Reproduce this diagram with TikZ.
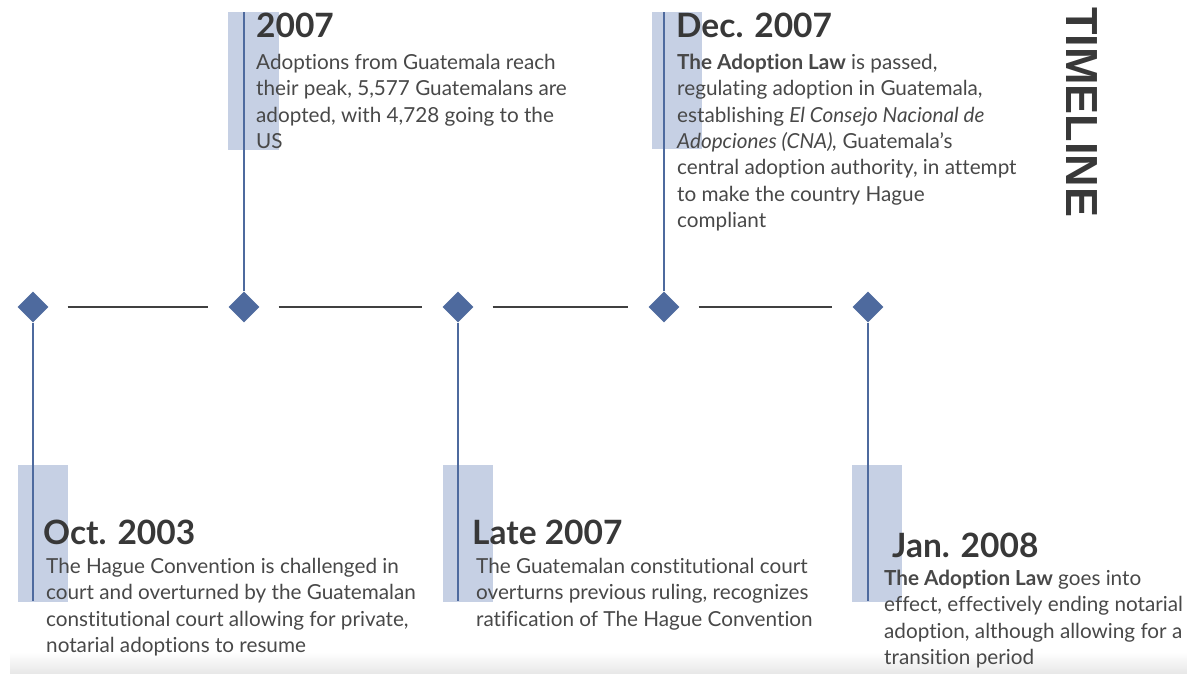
\documentclass[tikz,border=0pt]{standalone}
\usepackage{fontspec}
\setmainfont{Lato}[Ligatures={NoCommon}]
\newfontfamily\titlefont{Liberation Sans}
\usetikzlibrary{shapes.geometric}
\definecolor{tlblue}{HTML}{4E6A9E}
\definecolor{tllight}{HTML}{C6D0E4}
\definecolor{tlhead}{HTML}{383838}
\definecolor{tlbody}{HTML}{484848}
\definecolor{tlline}{HTML}{404040}
\tikzset{
  dia/.style={diamond,fill=tlblue,draw=none,minimum width=31,minimum height=31,inner sep=0},
  vline/.style={draw=tlblue,line width=2.2},
  hline/.style={draw=tlline,line width=2.4,shorten >=20,shorten <=19},
  hilite/.style={fill=tllight,draw=none},
  heading/.style={anchor=base west,inner sep=0,text=tlhead,font=\fontsize{33.5}{36}\selectfont\bfseries},
  body/.style={anchor=north west,inner sep=0,text=tlbody,align=left,font=\fontsize{20.7}{26.3}\selectfont},
}
\begin{document}
\begin{tikzpicture}[x=1pt,y=-1pt]
\useasboundingbox (0,0) rectangle (1187,673);
\shade[top color=white,bottom color=black!9] (10,652) rectangle (1187,673);
% highlight rectangles
\fill[hilite] (228,12) rectangle (279,150);
\fill[hilite] (652,12) rectangle (702,149);
\fill[hilite] (18,465) rectangle (68,602);
\fill[hilite] (443,465) rectangle (493,602);
\fill[hilite] (852,465) rectangle (902,602);
% diamonds
\node[dia] (d1) at (33,307) {};
\node[dia] (d2) at (244,307) {};
\node[dia] (d3) at (458,307) {};
\node[dia] (d4) at (664,307) {};
\node[dia] (d5) at (868,307) {};
% ends of stems
\coordinate (e1) at (33,601);
\coordinate (e2) at (244,12);
\coordinate (e3) at (458,601);
\coordinate (e4) at (664,12);
\coordinate (e5) at (868,601);
\draw[vline] (d1) -- (e1);
\draw[vline] (d2) -- (e2);
\draw[vline] (d3) -- (e3);
\draw[vline] (d4) -- (e4);
\draw[vline] (d5) -- (e5);
% horizontal segments
\draw[hline] (d1) -- (d2);
\draw[hline] (d2) -- (d3);
\draw[hline] (d3) -- (d4);
\draw[hline] (d4) -- (d5);
% texts
\node[heading] (h2) at (256,37) {2007};
\node[body] (b2) at (256,54) {Adoptions from Guatemala reach\\their peak, 5,577 Guatemalans are\\adopted, with 4,728 going to the\\US};
\node[heading] (h4) at (676,37) {Dec. 2007};
\node[body] (b4) at (677,54) {\textbf{The Adoption Law} is passed,\\regulating adoption in Guatemala,\\establishing \textit{El Consejo Nacional de}\\\textit{Adopciones (CNA),} Guatemala’s\\central adoption authority, in attempt\\to make the country Hague\\compliant};
\node[heading] (h1) at (43,544) {Oct. 2003};
\node[body] (b1) at (46,558) {The Hague Convention is challenged in\\court and overturned by the Guatemalan\\constitutional court allowing for private,\\notarial adoptions to resume};
\node[heading] (h3) at (472,544) {Late 2007};
\node[body] (b3) at (476,558) {The Guatemalan constitutional court\\overturns previous ruling, recognizes\\ratification of The Hague Convention};
\node[heading] (h5) at (892,557) {Jan. 2008};
\node[body] (b5) at (884,570) {\textbf{The Adoption Law} goes into\\effect, effectively ending notarial\\adoption, although allowing for a\\transition period};
\node[rotate=-90,inner sep=0,text=tlhead,font=\titlefont\fontsize{45}{50}\selectfont\bfseries] (tl) at (1082,112) {TIMELINE};
\end{tikzpicture}
\end{document}
